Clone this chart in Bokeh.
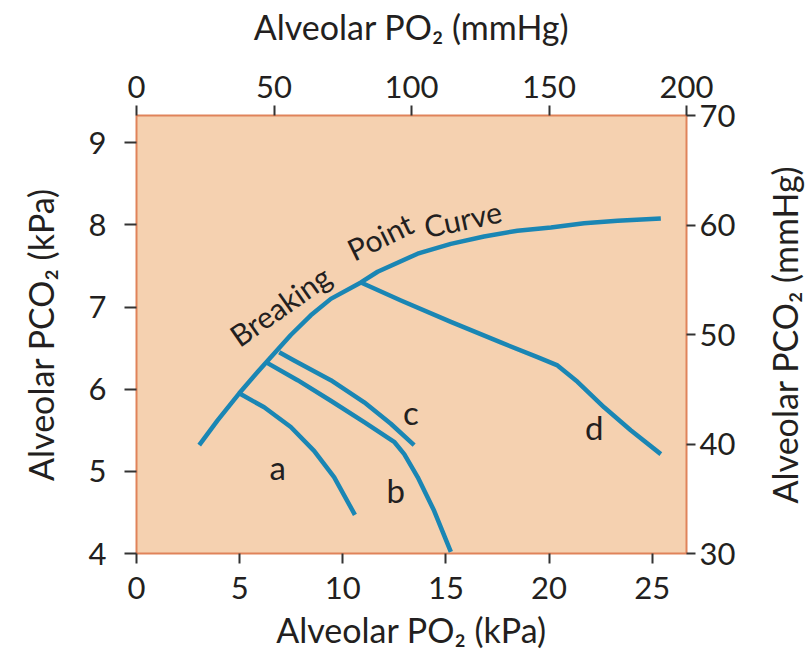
from bokeh.plotting import figure
from bokeh.layouts import row
from bokeh.models import Range1d, LinearAxis, FixedTicker, ColumnDataSource
from bokeh.core.properties import value
from bokeh.embed import file_html
from bokeh.resources import INLINE

KPA_PER_MMHG = 1 / 7.50062

# ---- data (kPa) ----
bp_x = [3.04, 3.93, 4.98, 5.87, 6.51, 7.48, 8.45, 9.42, 10.88, 11.69, 13.63, 15.24, 16.85, 18.47, 20.09, 21.70, 23.32, 25.42]
bp_y = [5.32, 5.62, 5.95, 6.21, 6.39, 6.66, 6.90, 7.10, 7.30, 7.43, 7.65, 7.77, 7.86, 7.93, 7.97, 8.02, 8.05, 8.08]

a_x = [4.98, 6.19, 7.48, 8.61, 9.58, 10.59]
a_y = [5.95, 5.78, 5.54, 5.25, 4.93, 4.47]

b_x = [6.27, 7.81, 9.42, 11.04, 12.49, 12.98, 13.63, 14.43, 15.24]
b_y = [6.33, 6.11, 5.86, 5.60, 5.36, 5.21, 4.93, 4.52, 4.02]

c_x = [6.92, 7.64, 9.42, 11.04, 12.33, 13.46]
c_y = [6.45, 6.35, 6.11, 5.84, 5.58, 5.32]

d_x = [10.88, 12.82, 15.24, 17.66, 19.44, 20.41, 21.38, 22.67, 23.96, 25.42]
d_y = [7.30, 7.08, 6.82, 6.57, 6.39, 6.29, 6.09, 5.78, 5.50, 5.21]

curve_labels = ["a", "b", "c", "d"]
label_x = [6.84, 12.57, 13.30, 22.19]
label_y = [5.05, 4.77, 5.72, 5.54]

bp_words = ["Breaking", "Point", "Curve"]
bp_word_x = [4.67, 10.30, 13.95]
bp_word_y = [6.62, 7.68, 7.98]
bp_word_angle = [35, 26, 12]

x_ticks_kpa = [0, 5, 10, 15, 20, 25]
y_ticks_kpa = [4, 5, 6, 7, 8, 9]
x_ticks_mmhg = [0, 50, 100, 150, 200]
y_ticks_mmhg = [30, 40, 50, 60, 70]

right_title = "Alveolar PCO₂ (mmHg)"

FONT = "Lato"
LINE = "#1A86B4"
FILL = "#F5D1B0"
BORDER = "#E0835A"
TXT = "#231F20"
TICK_FS = "31px"
TITLE_FS = "34px"

W_MAIN = 760
W_SIDE = 50
H = 661
B_TOP = 115
B_BOTTOM = 108

p = figure(width=W_MAIN, height=H, output_backend="svg", toolbar_location=None,
           x_range=Range1d(0, 200 * KPA_PER_MMHG), y_range=Range1d(4, 70 * KPA_PER_MMHG),
           min_border_left=136, min_border_right=74, min_border_top=B_TOP, min_border_bottom=B_BOTTOM)
p.extra_x_ranges = {"mmhg": Range1d(0, 200)}
p.extra_y_ranges = {"mmhg": Range1d(30, 70)}

p.background_fill_color = FILL
p.border_fill_color = "white"
p.outline_line_color = BORDER
p.outline_line_width = 2
p.xgrid.visible = False
p.ygrid.visible = False

bottom = p.below[0]
left = p.left[0]
top = LinearAxis(x_range_name="mmhg")
right = LinearAxis(y_range_name="mmhg")
p.add_layout(top, "above")
p.add_layout(right, "right")

bottom.ticker = FixedTicker(ticks=x_ticks_kpa)
left.ticker = FixedTicker(ticks=y_ticks_kpa)
top.ticker = FixedTicker(ticks=x_ticks_mmhg)
right.ticker = FixedTicker(ticks=y_ticks_mmhg)

bottom.axis_label = "Alveolar PO₂ (kPa)"
left.axis_label = "Alveolar PCO₂ (kPa)"
top.axis_label = "Alveolar PO₂ (mmHg)"

for ax in (bottom, left, top, right):
    ax.axis_line_color = None
    ax.minor_tick_line_color = None
    ax.major_tick_in = 0
    ax.major_tick_line_color = "#333333"
    ax.major_tick_line_width = 2
    ax.major_label_text_font = FONT
    ax.major_label_text_font_size = TICK_FS
    ax.major_label_text_color = TXT
    ax.axis_label_text_font = FONT
    ax.axis_label_text_font_size = TITLE_FS
    ax.axis_label_text_font_style = "normal"
    ax.axis_label_text_color = TXT

left.major_tick_out = 12
left.major_label_standoff = 18
left.axis_label_standoff = 25
right.major_tick_out = 9
right.major_label_standoff = 4
top.major_tick_out = 10
top.major_label_standoff = 8
top.axis_label_standoff = 26
bottom.major_tick_out = 10
bottom.major_label_standoff = 13
bottom.axis_label_standoff = 7

for xs, ys in ((bp_x, bp_y), (a_x, a_y), (b_x, b_y), (c_x, c_y), (d_x, d_y)):
    p.line(xs, ys, line_color=LINE, line_width=4.5, line_join="round", line_cap="butt")

p.text(x=label_x, y=label_y, text=curve_labels, text_font=value(FONT), text_font_size="33px",
       text_color=TXT, text_align="center", text_baseline="middle")

src = ColumnDataSource(dict(x=bp_word_x, y=bp_word_y, t=bp_words, a=bp_word_angle))
p.text(x="x", y="y", text="t", angle="a", angle_units="deg", source=src,
       text_font=value(FONT), text_font_size="30px", text_color=TXT,
       text_align="left", text_baseline="alphabetic")

# narrow side panel: its (tick-less) left axis carries the right-hand title,
# which then reads bottom-to-top like the reference
side = figure(width=W_SIDE, height=H, output_backend="svg", toolbar_location=None,
              x_range=Range1d(0, 1), y_range=Range1d(0, 1),
              min_border_left=38, min_border_right=0, min_border_top=B_TOP, min_border_bottom=B_BOTTOM)
side.xaxis.visible = False
side.grid.visible = False
side.outline_line_color = None
side.background_fill_color = "white"
side.border_fill_color = "white"
sax = side.yaxis[0]
sax.ticker = FixedTicker(ticks=[])
sax.axis_line_color = None
sax.major_tick_line_color = None
sax.minor_tick_line_color = None
sax.major_tick_out = 0
sax.major_label_standoff = 0
sax.axis_label = right_title
sax.axis_label_standoff = 2
sax.axis_label_text_font = FONT
sax.axis_label_text_font_size = TITLE_FS
sax.axis_label_text_font_style = "normal"
sax.axis_label_text_color = TXT

layout = row(p, side, spacing=0)
open("out.html", "w").write(file_html(layout, INLINE))
